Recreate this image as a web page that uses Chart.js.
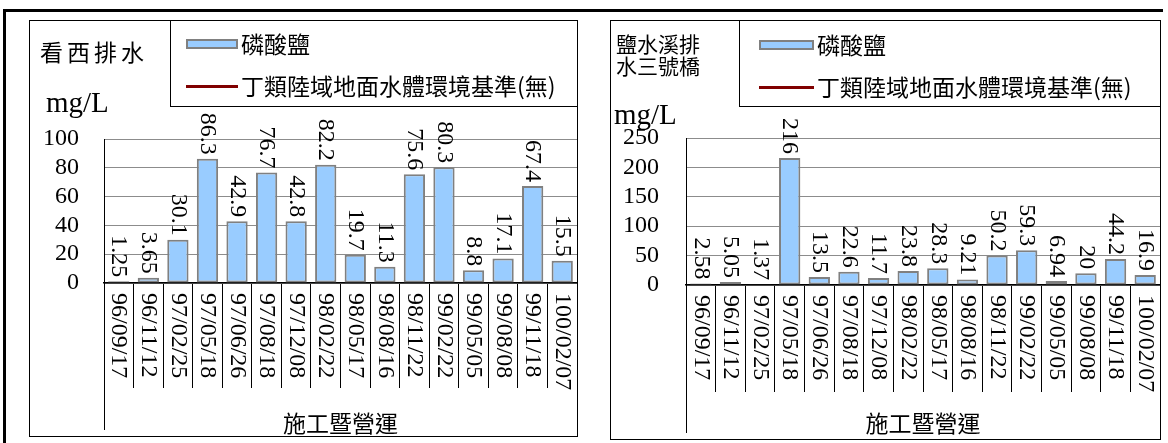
<!DOCTYPE html>
<html>
<head>
<meta charset="utf-8">
<script src="https://cdn.jsdelivr.net/npm/chart.js@4.4.1/dist/chart.umd.min.js"></script>
<style>
  body { margin: 0; width: 1168px; height: 443px; background: #fff; position: relative; overflow: hidden;
         font-family: 'Noto Sans CJK TC', 'Noto Sans CJK SC', sans-serif; color: #000; }
  .abs { position: absolute; }
  .frame { position: absolute; box-sizing: border-box; border: 1px solid #000; }
  .cjk { position: absolute; white-space: nowrap; font-size: 23px; line-height: 23px; }
  .unit { position: absolute; font-family: 'Liberation Serif', 'Times New Roman', serif; font-size: 29px; line-height: 29px; }
  canvas { position: absolute; }
</style>
</head>
<body>
<!-- page table lines -->
<div class="abs" style="left:3px;top:9px;width:1160px;height:3px;background:#000"></div>
<div class="abs" style="left:3px;top:9px;width:3px;height:434px;background:#000"></div>

<!-- left chart -->
<div class="frame" style="left:29px;top:20px;width:549px;height:417px"></div>
<canvas id="chartA" width="549" height="417" style="left:29px;top:20px"></canvas>
<div class="frame" style="left:170px;top:20px;width:408px;height:87px"></div>
<div id="titleA" class="cjk" style="left:40px;top:40px;letter-spacing:4px"></div>
<div id="unitA" class="unit" style="left:46px;top:88px"></div>
<div id="legendA"></div>

<!-- right chart -->
<div class="frame" style="left:610px;top:20px;width:551px;height:420px"></div>
<canvas id="chartB" width="551" height="420" style="left:610px;top:20px"></canvas>
<div class="frame" style="left:739px;top:20px;width:422px;height:87px"></div>
<div id="titleB" class="cjk" style="left:616px;top:32px;font-size:21px;line-height:22px;white-space:normal;width:90px"></div>
<div id="unitB" class="unit" style="left:614px;top:100px"></div>
<div id="legendB"></div>

<script>
const dates = ['96/09/17', '96/11/12', '97/02/25', '97/05/18', '97/06/26', '97/08/18', '97/12/08', '98/02/22',
  '98/05/17', '98/08/16', '98/11/22', '99/02/22', '99/05/05', '99/08/08', '99/11/18', '100/02/07'];
const kanxiValues = [1.25, 3.65, 30.1, 86.3, 42.9, 76.7, 42.8, 82.2, 19.7, 11.3, 75.6, 80.3, 8.8, 17.1, 67.4, 15.5];
const yanshuiValues = [2.58, 5.05, 1.37, 216, 13.5, 22.6, 11.7, 23.8, 28.3, 9.21, 50.2, 59.3, 6.94, 20, 44.2, 16.9];
const kanxiTicks = [0, 20, 40, 60, 80, 100];
const yanshuiTicks = [0, 50, 100, 150, 200, 250];
const seriesName = '磷酸鹽';
const standardName = '丁類陸域地面水體環境基準(無)';
const groupName = '施工暨營運';
const unitName = 'mg/L';
const stationA = '看西排水';
const stationB = '鹽水溪排水三號橋';

const serif = "'Liberation Serif', 'Times New Roman', serif";
const cjk = "'Noto Sans CJK TC', 'Noto Sans CJK SC', sans-serif";

// draws the value labels and the two-level category axis (Excel style)
const excelAxis = {
  id: 'excelAxis',
  afterDatasetsDraw(chart) {
    const ctx = chart.ctx;
    const meta = chart.getDatasetMeta(0);
    const data = chart.data.datasets[0].data;
    ctx.save();
    ctx.font = '24px ' + serif;
    ctx.fillStyle = '#000';
    ctx.textAlign = 'right';
    ctx.textBaseline = 'middle';
    meta.data.forEach((bar, i) => {
      ctx.save();
      ctx.translate(bar.x, bar.y - 4);
      ctx.rotate(Math.PI / 2);
      ctx.fillText(String(data[i]), 0, 0);
      ctx.restore();
    });
    ctx.restore();
  },
  afterDraw(chart, args, opts) {
    const ctx = chart.ctx;
    const xs = chart.scales.x;
    const area = chart.chartArea;
    ctx.save();
    ctx.strokeStyle = '#000';
    ctx.lineWidth = 1;
    const lx = Math.round(area.left) + 0.5;
    ctx.beginPath();
    ctx.moveTo(lx, area.bottom);
    ctx.lineTo(lx, opts.axisBottom);
    ctx.stroke();

    ctx.fillStyle = '#000';
    ctx.font = '24px ' + serif;
    ctx.textAlign = 'left';
    ctx.textBaseline = 'middle';
    chart.data.labels.forEach((lab, i) => {
      const x = xs.getPixelForValue(i);
      ctx.save();
      ctx.translate(x, area.bottom + opts.labelGap);
      ctx.rotate(Math.PI / 2);
      ctx.fillText(lab, 0, 0);
      ctx.restore();
    });

    ctx.font = '23px ' + cjk;
    ctx.textAlign = 'center';
    ctx.fillText(opts.group, (area.left + area.right) / 2, opts.groupY);
    ctx.restore();
  }
};

function makeChart(id, values, ticks, geo) {
  return new Chart(document.getElementById(id), {
    type: 'bar',
    data: {
      labels: dates,
      datasets: [{
        label: seriesName,
        data: values,
        backgroundColor: '#99CCFF',
        borderColor: '#808080',
        borderWidth: 2,
        borderSkipped: false,
        categoryPercentage: 1,
        barPercentage: 0.72
      }, {
        type: 'line',
        label: standardName,
        data: [],
        borderColor: '#800000',
        borderWidth: 3,
        pointRadius: 0
      }]
    },
    options: {
      responsive: false,
      animation: false,
      layout: { padding: { top: geo.top, right: 1, left: 0, bottom: 0 } },
      plugins: {
        legend: { display: false },
        tooltip: { enabled: false },
        excelAxis: { group: groupName, axisBottom: geo.axisBottom, labelGap: 10, groupY: 403 }
      },
      scales: {
        x: {
          offset: true,
          ticks: { display: false },
          grid: { display: true, offset: true, drawOnChartArea: false, drawTicks: true,
                  tickLength: geo.sepLen, color: '#000', lineWidth: 1 },
          border: { display: true, color: '#000', width: 1.5 },
          afterFit: s => { s.height = geo.xh; }
        },
        y: {
          min: 0,
          max: ticks[ticks.length - 1],
          afterBuildTicks: s => { s.ticks = ticks.map(v => ({ value: v })); },
          ticks: { autoSkip: false, padding: geo.pad, color: '#000',
                   font: { family: serif, size: 24, lineHeight: 1 } },
          grid: { color: '#8c8c8c', drawTicks: false },
          border: { display: true, color: '#000', width: 1 },
          afterFit: s => { s.width = geo.yw; }
        }
      }
    },
    plugins: [excelAxis]
  });
}

function makeLegend(chart, el, geo) {
  chart.data.datasets.forEach((ds, i) => {
    const y = geo.rows[i];
    const mark = document.createElement('div');
    mark.className = 'abs';
    if (ds.type === 'line') {
      mark.style.cssText = `left:${geo.x}px;top:${y - 1.5}px;width:${geo.w}px;height:3px;background:${ds.borderColor}`;
    } else {
      mark.style.cssText = `left:${geo.x}px;top:${y - 5}px;width:${geo.w}px;height:10px;box-sizing:border-box;` +
        `background:${ds.backgroundColor};border:2px solid ${ds.borderColor}`;
    }
    el.appendChild(mark);
    const txt = document.createElement('div');
    txt.className = 'cjk';
    txt.style.left = geo.tx + 'px';
    txt.style.top = (y - 12) + 'px';
    txt.textContent = ds.label;
    el.appendChild(txt);
  });
}

const chartA = makeChart('chartA', kanxiValues, kanxiTicks,
  { top: 119, yw: 75, xh: 154, pad: 25, sepLen: 105, axisBottom: 410 });
const chartB = makeChart('chartB', yanshuiValues, yanshuiTicks,
  { top: 118, yw: 76, xh: 155, pad: 27, sepLen: 107, axisBottom: 413 });

makeLegend(chartA, document.getElementById('legendA'), { x: 186, w: 52, tx: 241, rows: [44, 86] });
makeLegend(chartB, document.getElementById('legendB'), { x: 759, w: 55, tx: 817, rows: [45, 87] });

document.getElementById('titleA').textContent = stationA;
document.getElementById('titleB').textContent = stationB;
document.getElementById('unitA').textContent = unitName;
document.getElementById('unitB').textContent = unitName;
</script>
</body>
</html>
